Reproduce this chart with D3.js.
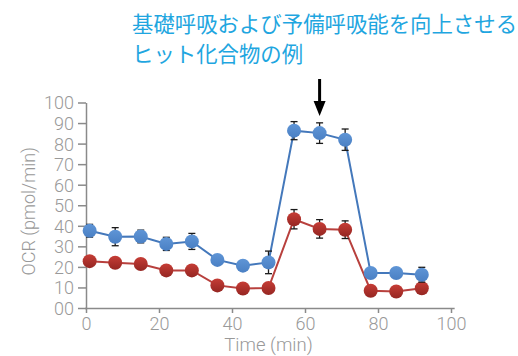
<!DOCTYPE html>
<html>
<head>
<meta charset="utf-8">
<script src="https://cdn.jsdelivr.net/npm/d3@7"></script>
<style>
  html, body { margin: 0; padding: 0; background: #fff; }
  svg { display: block; }
</style>
</head>
<body>
<svg id="chart" width="518" height="356"></svg>
<script>
// Measurement times (min)
const times = [1, 8, 15, 22, 29, 36, 43, 50, 57, 64, 71, 78, 85, 92];
// Hit compound (blue) OCR and error
const hitOCR = [37.6, 34.7, 34.8, 31.2, 32.4, 23.4, 20.6, 22.2, 86.3, 85.1, 81.9, 17.0, 17.0, 16.2];
const hitErr = [3.1, 4.4, 3.1, 3.2, 3.9, 1.0, 1.0, 5.5, 4.4, 5.0, 5.2, 1.0, 1.0, 3.6];
// Control (red) OCR and error
const ctlOCR = [22.8, 22.0, 21.4, 18.3, 18.3, 11.0, 9.5, 9.7, 43.2, 38.5, 38.1, 8.4, 8.0, 9.6];
const ctlErr = [1.0, 1.0, 1.0, 1.0, 1.0, 1.0, 1.0, 1.0, 4.7, 4.5, 4.3, 1.0, 1.0, 1.0];
// Axis ticks
const xTicks = [0, 20, 40, 60, 80, 100];
const yTicks = [0, 10, 20, 30, 40, 50, 60, 70, 80, 90, 100];
const yTickLabels = ["00", "10", "20", "30", "40", "50", "60", "70", "80", "90", "100"];
// Arrow marks the injection time
const arrowTime = 64;
const titleLines = ["基礎呼吸および予備呼吸能を向上させる", "ヒット化合物の例"];

const svg = d3.select("#chart");
const x = d3.scaleLinear().domain([0, 100]).range([86, 451]);
const y = d3.scaleLinear().domain([0, 100]).range([308, 102.5]);
const axisColor = "#8a8a8a";
const textColor = "#999999";
const numFont = "Roboto, 'Noto Sans', sans-serif";

// Gradients for markers
const defs = svg.append("defs");
function grad(id, top, bottom) {
  const g = defs.append("linearGradient").attr("id", id)
    .attr("x1", 0).attr("y1", 0).attr("x2", 0).attr("y2", 1);
  g.append("stop").attr("offset", "0%").attr("stop-color", top);
  g.append("stop").attr("offset", "100%").attr("stop-color", bottom);
}
grad("gBlue", "#5f95d6", "#4a80c4");
grad("gRed", "#c63d36", "#952622");

// Title
svg.append("g").selectAll("text").data(titleLines).join("text")
  .attr("x", 132)
  .attr("y", (d, i) => 22 + i * 30)
  .attr("dominant-baseline", "central")
  .attr("font-family", "'Noto Sans CJK JP', sans-serif")
  .attr("font-size", 21.4)
  .attr("fill", "#1fa6e0")
  .text(d => d);

// X axis
const xAxis = svg.append("g").attr("transform", `translate(0,${y(0)})`)
  .call(d3.axisBottom(x).tickValues(xTicks).tickSize(5).tickSizeOuter(0).tickPadding(4));
xAxis.select(".domain").attr("d", `M${x(0) - 1},0.5H${x(101)}`);
// Y axis
const yAxis = svg.append("g").attr("transform", `translate(${x(0)},0)`)
  .call(d3.axisLeft(y).tickValues(yTicks).tickSize(8).tickSizeOuter(0).tickPadding(4)
    .tickFormat((d, i) => yTickLabels[i]));

[xAxis, yAxis].forEach(a => {
  a.selectAll("path, line").attr("stroke", axisColor).attr("stroke-width", 1.5);
  a.selectAll("text").attr("fill", textColor).attr("font-family", numFont)
    .attr("font-size", 18).attr("font-weight", 300);
});
yAxis.selectAll("text").attr("dy", "0.36em");

// Axis titles
svg.append("text")
  .attr("x", (x(0) + x(100)) / 2).attr("y", 350.5)
  .attr("text-anchor", "middle")
  .attr("font-family", numFont).attr("font-size", 18.5).attr("font-weight", 300)
  .attr("fill", textColor).text("Time (min)");
svg.append("text")
  .attr("transform", `translate(35,${(y(0) + y(100)) / 2 + 6}) rotate(-90)`)
  .attr("text-anchor", "middle")
  .attr("font-family", numFont).attr("font-size", 18).attr("font-weight", 300)
  .attr("fill", textColor).text("OCR (pmol/min)");

// Series
function drawSeries(vals, errs, lineColor, fillId) {
  const pts = times.map((t, i) => ({ t, v: vals[i], e: errs[i] }));
  const g = svg.append("g");
  g.append("path").datum(pts)
    .attr("fill", "none").attr("stroke", lineColor).attr("stroke-width", 2)
    .attr("d", d3.line().x(d => x(d.t)).y(d => y(d.v)));
  const eb = g.append("g").selectAll("g").data(pts).join("g")
    .attr("stroke", "#1a1a1a").attr("stroke-width", 1.3);
  eb.append("line")
    .attr("x1", d => x(d.t)).attr("x2", d => x(d.t))
    .attr("y1", d => y(d.v + d.e)).attr("y2", d => y(d.v - d.e));
  eb.append("line")
    .attr("x1", d => x(d.t) - 3.5).attr("x2", d => x(d.t) + 3.5)
    .attr("y1", d => y(d.v + d.e)).attr("y2", d => y(d.v + d.e));
  eb.append("line")
    .attr("x1", d => x(d.t) - 3.5).attr("x2", d => x(d.t) + 3.5)
    .attr("y1", d => y(d.v - d.e)).attr("y2", d => y(d.v - d.e));
  g.append("g").selectAll("circle").data(pts).join("circle")
    .attr("cx", d => x(d.t)).attr("cy", d => y(d.v)).attr("r", 7)
    .attr("fill", `url(#${fillId})`);
}
drawSeries(ctlOCR, ctlErr, "#b8403d", "gRed");
drawSeries(hitOCR, hitErr, "#4478bb", "gBlue");

// Arrow
const ax = x(arrowTime);
svg.append("line").attr("x1", ax).attr("x2", ax).attr("y1", 79).attr("y2", 103)
  .attr("stroke", "#000").attr("stroke-width", 3);
svg.append("path")
  .attr("d", `M${ax - 6},101L${ax + 6},101L${ax},116Z`).attr("fill", "#000");
</script>
</body>
</html>
